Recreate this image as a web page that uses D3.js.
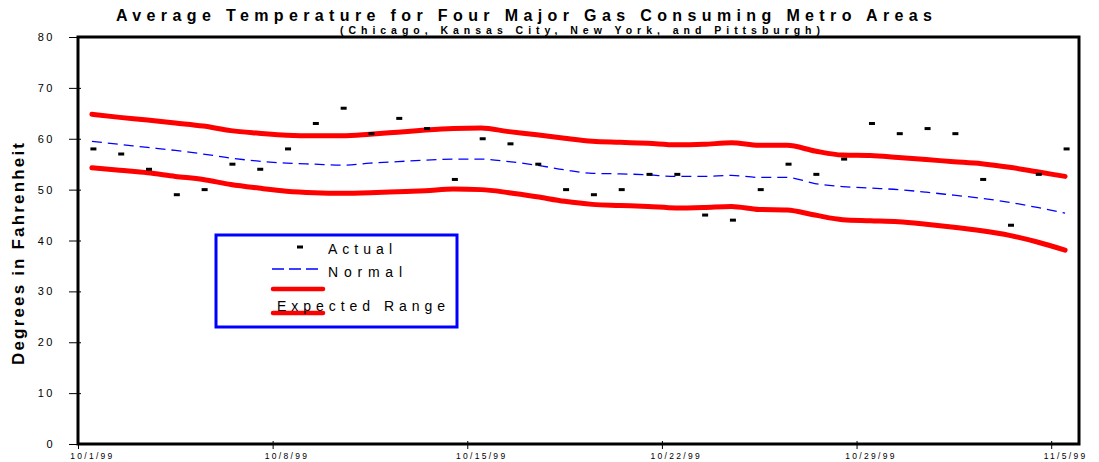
<!DOCTYPE html>
<html>
<head>
<meta charset="utf-8">
<script src="https://cdn.jsdelivr.net/npm/d3@7/dist/d3.min.js"></script>
<style>
  body { margin: 0; background: #fff; }
  svg { display: block; font-family: "Liberation Sans", Arial, sans-serif; }
</style>
</head>
<body>
<div id="chart"></div>
<script>
// categories: one per day, 10/1/99 .. 11/5/99
const days = ["10/1/99","10/2/99","10/3/99","10/4/99","10/5/99","10/6/99","10/7/99",
  "10/8/99","10/9/99","10/10/99","10/11/99","10/12/99","10/13/99","10/14/99",
  "10/15/99","10/16/99","10/17/99","10/18/99","10/19/99","10/20/99","10/21/99",
  "10/22/99","10/23/99","10/24/99","10/25/99","10/26/99","10/27/99","10/28/99",
  "10/29/99","10/30/99","10/31/99","11/1/99","11/2/99","11/3/99","11/4/99","11/5/99"];

const actual = [58,57,54,49,50,55,54, 58,63,66,61,64,62,52, 60,59,55,50,49,50,53,
  53,45,44,50,55,53,56, 63,61,62,61,52,43,53,58];

const normal = [59.5,58.9,58.3,57.7,57.0,56.2,55.6, 55.2,55.0,54.8,55.2,55.5,55.8,56.0,
  56.0,55.5,54.8,53.9,53.2,53.1,52.9, 52.6,52.6,52.8,52.4,52.4,51.2,50.6,
  50.3,50.0,49.5,48.9,48.3,47.5,46.5,45.4];

const upper = [64.8,64.2,63.7,63.1,62.5,61.6,61.1, 60.7,60.6,60.6,60.9,61.3,61.7,62.0,
  62.1,61.4,60.8,60.1,59.5,59.3,59.1, 58.8,58.9,59.2,58.7,58.7,57.6,56.8,
  56.7,56.3,55.9,55.5,55.1,54.4,53.5,52.6];

const lower = [54.3,53.8,53.3,52.6,52.0,51.0,50.3, 49.7,49.4,49.3,49.4,49.6,49.8,50.1,
  50.0,49.4,48.6,47.7,47.1,46.9,46.7, 46.4,46.5,46.7,46.1,46.0,45.0,44.1,
  43.9,43.7,43.2,42.6,41.9,41.0,39.7,38.1];

const yTicks = [0,10,20,30,40,50,60,70,80];
const xTickIdx = [0,7,14,21,28,35];

const W = 1099, H = 462;
const plot = { left: 78, right: 1079, top: 37, bottom: 444 };

const svg = d3.select("#chart").append("svg").attr("width", W).attr("height", H);

const x = d3.scaleLinear().domain([0, days.length]).range([plot.left, plot.right]);
const y = d3.scaleLinear().domain([0, 80]).range([plot.bottom, plot.top]);
const cx = i => x(i + 0.5);

// title
svg.append("text").attr("x", 116).attr("y", 21)
  .attr("textLength", 816).attr("lengthAdjust", "spacing")
  .style("font-size", "16px").style("font-weight", "bold")
  .text("Average Temperature for Four Major Gas Consuming Metro Areas");
svg.append("text").attr("x", 340).attr("y", 34)
  .attr("textLength", 480).attr("lengthAdjust", "spacing")
  .style("font-size", "10.5px").style("font-weight", "bold")
  .text("(Chicago, Kansas City, New York, and Pittsburgh)");

// y axis title
svg.append("text")
  .attr("transform", "translate(24,254) rotate(-90)")
  .attr("text-anchor", "middle")
  .attr("textLength", 222).attr("lengthAdjust", "spacing")
  .style("font-size", "17px").style("font-weight", "bold")
  .text("Degrees in Fahrenheit");

// y axis
const gy = svg.append("g").attr("transform", `translate(${plot.left},0)`)
  .call(d3.axisLeft(y).tickValues(yTicks).tickSize(9).tickPadding(14));
gy.select(".domain").remove();
gy.selectAll(".tick line").attr("x1", 3).attr("stroke", "#000");
gy.selectAll(".tick text").style("font-size", "11px").style("letter-spacing", "2.5px")
  .style("font-family", "Liberation Sans, Arial, sans-serif").attr("fill", "#000");

// x axis ticks (category boundaries)
const gx = svg.append("g").attr("transform", `translate(0,${plot.bottom})`)
  .call(d3.axisBottom(x).tickValues(xTickIdx).tickSize(5).tickFormat(""));
gx.select(".domain").remove();
gx.selectAll(".tick line").attr("y1", -3).attr("stroke", "#000");

// x axis labels (category centres)
const gxl = svg.append("g").attr("transform", `translate(0,${plot.bottom})`)
  .call(d3.axisBottom(x).tickValues(xTickIdx.map(i => i + 0.5)).tickSize(0)
    .tickFormat(v => days[Math.round(v - 0.5)]));
gxl.select(".domain").remove();
gxl.selectAll(".tick text").attr("y", 15).attr("dy", 0)
  .style("font-size", "8.5px").style("letter-spacing", "2.3px")
  .style("font-family", "Liberation Sans, Arial, sans-serif").attr("fill", "#000");

// series
const line = d3.line().x((d, i) => cx(i)).y(d => y(d)).curve(d3.curveMonotoneX);

svg.append("path").datum(normal).attr("d", line)
  .attr("fill", "none").attr("stroke", "#0000ff").attr("stroke-width", 1.3)
  .attr("stroke-dasharray", "10,6");

[upper, lower].forEach(s => {
  svg.append("path").datum(s).attr("d", line)
    .attr("fill", "none").attr("stroke", "#ff0000").attr("stroke-width", 5)
    .attr("stroke-linecap", "round").attr("stroke-linejoin", "round");
});

svg.append("g").selectAll("rect").data(actual).join("rect")
  .attr("x", (d, i) => cx(i) - 1.5).attr("y", d => y(d) - 1.5)
  .attr("width", 6).attr("height", 3).attr("fill", "#000");

// frame
svg.append("rect").attr("x", plot.left).attr("y", plot.top)
  .attr("width", plot.right - plot.left).attr("height", plot.bottom - plot.top)
  .attr("fill", "none").attr("stroke", "#000").attr("stroke-width", 3);

// legend
const lg = svg.append("g");
lg.append("rect").attr("x", 216).attr("y", 235).attr("width", 241).attr("height", 92)
  .attr("fill", "#fff").attr("stroke", "#0000ff").attr("stroke-width", 3);
lg.append("rect").attr("x", 297).attr("y", 245.5).attr("width", 6).attr("height", 3).attr("fill", "#000");
lg.append("text").attr("x", 328).attr("y", 254).attr("textLength", 64).attr("lengthAdjust", "spacing")
  .style("font-size", "14px").text("Actual");
lg.append("line").attr("x1", 272).attr("x2", 318).attr("y1", 269).attr("y2", 269)
  .attr("stroke", "#0000ff").attr("stroke-width", 1.5).attr("stroke-dasharray", "12,5");
lg.append("text").attr("x", 328).attr("y", 277).attr("textLength", 74).attr("lengthAdjust", "spacing")
  .style("font-size", "14px").text("Normal");
[289, 313].forEach(yy => {
  lg.append("line").attr("x1", 273).attr("x2", 323).attr("y1", yy).attr("y2", yy)
    .attr("stroke", "#ff0000").attr("stroke-width", 4.5).attr("stroke-linecap", "round");
});
lg.append("text").attr("x", 277).attr("y", 311).attr("textLength", 168).attr("lengthAdjust", "spacing")
  .style("font-size", "14px").text("Expected Range");
</script>
</body>
</html>
